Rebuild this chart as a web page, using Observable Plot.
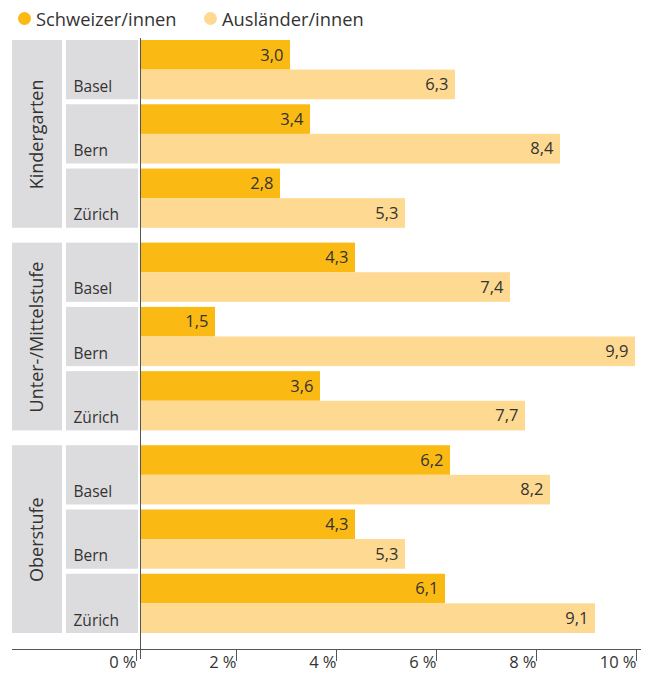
<!DOCTYPE html>
<html><head><meta charset="utf-8">
<script src="https://cdn.jsdelivr.net/npm/d3@7"></script>
<script src="https://cdn.jsdelivr.net/npm/@observablehq/plot@0.6"></script>
<style>
body{margin:0;background:#fff;font-family:"Open Sans",sans-serif;}
#legend{height:36px;position:relative;font-size:18.3px;color:#333;}
#legend .item{position:absolute;top:6px;display:flex;align-items:center;white-space:nowrap;}
#legend .dot{width:13px;height:13px;border-radius:50%;margin-right:5px;}
#chart svg{display:block;}
</style></head><body>
<div id="legend"></div><div id="chart"></div>
<script>
const groups = ["Kindergarten", "Unter-/Mittelstufe", "Oberstufe"];
const cities = ["Basel", "Bern", "Zürich"];
const seriesNames = ["Schweizer/innen", "Ausländer/innen"];
const schweizer = [3.0, 3.4, 2.8, 4.3, 1.5, 3.6, 6.2, 4.3, 6.1];
const auslaender = [6.3, 8.4, 5.3, 7.4, 9.9, 7.7, 8.2, 5.3, 9.1];
const xTicks = [0, 2, 4, 6, 8, 10];
const colors = ["#FBBA13", "#FDD991"];

// legend
const legend = document.getElementById("legend");
const legendLeft = [18, 204];
seriesNames.forEach((s, i) => {
  const it = document.createElement("div");
  it.className = "item";
  it.style.left = legendLeft[i] + "px";
  it.innerHTML = `<span class="dot" style="background:${colors[i]}"></span><span>${s}</span>`;
  legend.appendChild(it);
});

// layout in row units
const cityGap = 0.17, groupGap = 0.5;
const groupSpan = 6 + 2 * cityGap;
const total = 3 * groupSpan + 2 * groupGap;
const bars = [], cityBoxes = [], groupBoxes = [];
groups.forEach((g, gi) => {
  const g0 = gi * (groupSpan + groupGap);
  groupBoxes.push({group: g, y1: g0, y2: g0 + groupSpan});
  cities.forEach((c, ci) => {
    const c0 = g0 + ci * (2 + cityGap);
    cityBoxes.push({city: c, y1: c0, y2: c0 + 2});
    [schweizer, auslaender].forEach((arr, si) => {
      bars.push({group: g, city: c, series: seriesNames[si], value: arr[gi * 3 + ci],
                 y1: c0 + si, y2: c0 + si + 1, ym: c0 + si + 0.5});
    });
  });
});

const xMin = -2.56;           // left edge of label panel
const groupBoxX = [xMin, -1.56];
const cityBoxX = [-1.48, -0.04];
const gray = "#DCDCDE", ink = "#333";
const font = "'Open Sans', sans-serif";

const chart = Plot.plot({
  width: 649, height: 637,
  marginLeft: 12, marginRight: 9, marginTop: 4, marginBottom: 24,
  style: {fontFamily: font, color: ink, background: "#fff"},
  x: {domain: [xMin, 10], axis: null, label: null},
  y: {domain: [0, total], range: [4, 597], axis: null},
  color: {domain: seriesNames, range: colors},
  marks: [
    Plot.rect(groupBoxes, {x1: groupBoxX[0], x2: groupBoxX[1], y1: "y1", y2: "y2", fill: gray}),
    Plot.rect(cityBoxes, {x1: cityBoxX[0], x2: cityBoxX[1], y1: "y1", y2: "y2", fill: gray}),
    Plot.rect(bars, {x1: 0, x2: "value", y1: "y1", y2: "y2", fill: "series"}),
    Plot.text(bars, {x: "value", y: "ym", text: d => d.value.toFixed(1).replace(".", ","),
      textAnchor: "end", dx: -7, fontSize: 16.5, fill: ink}),
    Plot.text(cityBoxes, {x: cityBoxX[0], y: "y2", text: "city", textAnchor: "start",
      lineAnchor: "bottom", dx: 7, dy: -8, fontSize: 15.5, fill: ink}),
    Plot.text(groupBoxes, {x: (groupBoxX[0] + groupBoxX[1]) / 2, y: d => (d.y1 + d.y2) / 2,
      text: "group", rotate: -90, fontSize: 18, fill: ink}),
    Plot.frame({anchor: "bottom", stroke: "#555"}),
    Plot.ruleX([0], {stroke: "#555", insetTop: -2, insetBottom: -10}),
    Plot.axisX(xTicks, {tickSize: 12, tickPadding: -5, textAnchor: "end", dx: -4, label: null,
      tickFormat: d => d + " %", fontSize: 16.5, fill: ink, stroke: "#555"})
  ]
});
document.getElementById("chart").appendChild(chart);
</script>
</body></html>
